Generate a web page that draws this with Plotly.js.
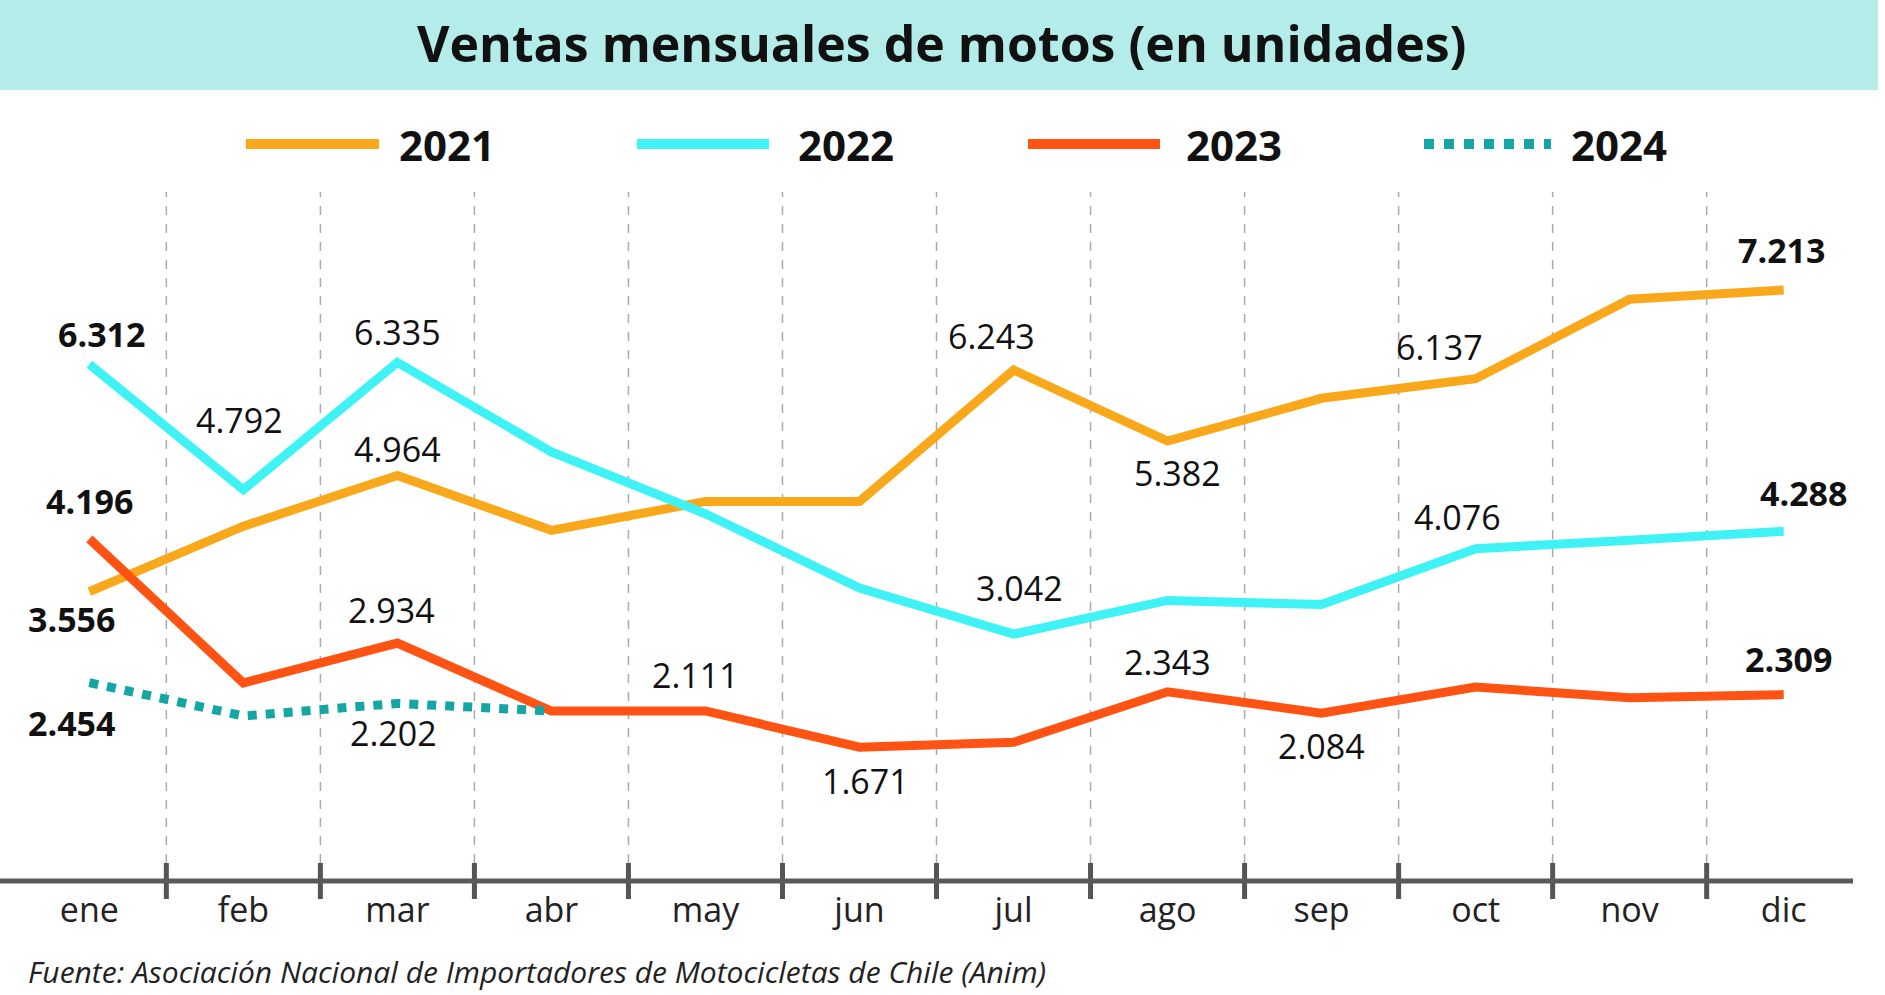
<!DOCTYPE html>
<html><head><meta charset="utf-8">
<script src="https://cdn.plot.ly/plotly-3.0.1.min.js"></script>
<style>body{margin:0;background:#fff}</style></head>
<body><div id="c" style="width:1885px;height:995px"></div>
<script>
const months=["ene","feb","mar","abr","may","jun","jul","ago","sep","oct","nov","dic"];
const v2021=[3.556,4.35,4.964,4.30,4.65,4.65,6.243,5.382,5.90,6.137,7.10,7.213];
const v2022=[6.312,4.792,6.335,5.25,4.50,3.60,3.042,3.45,3.40,4.076,4.18,4.288];
const v2023=[4.196,2.45,2.934,2.11,2.111,1.671,1.73,2.343,2.084,2.40,2.27,2.309];
const v2024=[2.454,2.05,2.202,2.11];
const seriesNames=["2021","2022","2023","2024"];
const colors=["#f9a81c","#3ff2f5","#ff5314","#14a5a5"];
const x=months.map((m,i)=>i);
const W=1853,H=689,TOP=192;
const px=p=>p/W, py=p=>(TOP+H-p)/H;
const font="'Open Sans', 'Noto Sans', sans-serif";
const traces=[v2021,v2022,v2023,v2024].map((v,k)=>({x:x.slice(0,v.length),y:v,mode:'lines',
  line:{color:colors[k],width:9,dash:k===3?'dot':'solid'},hoverinfo:'skip'}));
const L=[[v2022,0,1,12,30],[v2023,0,1,0,38],[v2021,0,1,-18,-27],[v2024,0,1,-18,-40],
[v2022,1,0,-4,70],[v2022,2,0,0,30],[v2021,2,0,0,27],[v2023,2,0,-6,33],[v2024,2,0,-4,-30],
[v2023,4,0,-10,36],[v2023,5,0,6,-34],[v2021,6,0,-22,34],[v2022,6,0,6,46],[v2021,7,0,10,-32],
[v2023,7,0,0,30],[v2023,8,0,0,-33],[v2021,9,0,-36,32],[v2022,9,0,-18,32],[v2021,11,1,-2,40],
[v2022,11,1,20,38],[v2023,11,1,5,36]];
const ann=L.map(([v,i,b,xs,ys])=>({x:i,y:v[i],text:b?'<b>'+v[i].toFixed(3)+'</b>':v[i].toFixed(3),
  showarrow:false,xshift:xs,yshift:ys,font:{size:34,color:'#111',family:font}}));
ann.push({xref:'paper',yref:'paper',x:px(942),y:py(43),yanchor:'middle',text:'<b>Ventas mensuales de motos (en unidades)</b>',
  showarrow:false,font:{size:50,color:'#111',family:font}});
ann.push({xref:'paper',yref:'paper',x:px(26),y:py(971),xanchor:'left',yanchor:'middle',text:'<i>Fuente: Asociación Nacional de Importadores de Motocicletas de Chile (Anim)</i>',
  showarrow:false,font:{size:30,color:'#222',family:font}});
const shapes=[{type:'rect',xref:'paper',yref:'paper',x0:0,x1:px(1878),y0:py(0),y1:py(90),fillcolor:'#b3ece9',line:{width:0},layer:'below'}];
const leg=[[246,379,397],[637,769,796],[1028,1160,1184],[1424,1551,1569]];
leg.forEach(([a,b,t],k)=>{shapes.push({type:'line',xref:'paper',yref:'paper',x0:px(a),x1:px(b),y0:py(144),y1:py(144),
  line:{color:colors[k],width:10,dash:k===3?'dot':'solid'}});
  ann.push({xref:'paper',yref:'paper',x:px(t),y:py(144),xanchor:'left',yanchor:'middle',text:'<b>'+seriesNames[k]+'</b>',showarrow:false,
  font:{size:42,color:'#111',family:font}});});
for(let i=0;i<=11;i++){const g=i+0.5;
  if(i<11) shapes.push({type:'line',x0:g,x1:g,yref:'paper',y0:0,y1:1,line:{color:'#aaa',width:1.5,dash:'dash'},layer:'below'});
  shapes.push({type:'line',x0:g,x1:g,yref:'paper',y0:py(899),y1:py(863),line:{color:'#555',width:5}});}
shapes.push({type:'line',x0:-0.58,x1:11.5,yref:'paper',y0:0,y1:0,line:{color:'#5a5a5a',width:5}});
Plotly.newPlot('c',traces,{width:1885,height:995,margin:{l:0,r:32,t:TOP,b:995-TOP-H},
 showlegend:false,paper_bgcolor:'#fff',plot_bgcolor:'#fff',
 xaxis:{range:[-0.58,11.45],tickvals:x,ticktext:months,showgrid:false,zeroline:false,showline:false,
   tickfont:{size:34,color:'#222',family:font},ticks:'',ticklen:0,ticklabelstandoff:6},
 yaxis:{range:[0.05,8.4],visible:false},annotations:ann,shapes:shapes},{staticPlot:true});
</script></body></html>
